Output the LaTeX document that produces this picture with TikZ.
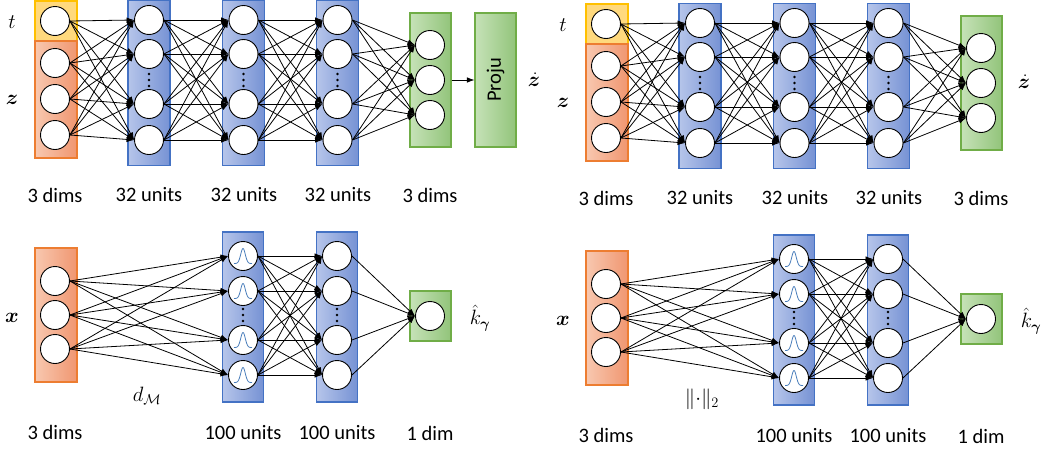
\documentclass[tikz,border=0pt]{standalone}
\usepackage[no-math]{fontspec}
\setmainfont{Carlito}
\usepackage{amsmath,bm}
\usetikzlibrary{arrows.meta}

\definecolor{blueL}{RGB}{182,197,234}
\definecolor{blueR}{RGB}{118,146,212}
\definecolor{blueBd}{RGB}{68,114,196}
\definecolor{orangeL}{RGB}{248,200,176}
\definecolor{orangeR}{RGB}{240,150,112}
\definecolor{orangeBd}{RGB}{237,125,49}
\definecolor{greenL}{RGB}{198,226,184}
\definecolor{greenR}{RGB}{146,196,122}
\definecolor{greenBd}{RGB}{112,173,71}
\definecolor{yellowF}{RGB}{255,217,125}
\definecolor{yellowBd}{RGB}{255,192,0}
\definecolor{gaussC}{RGB}{74,126,187}

\tikzset{
  neuron/.style={circle, draw=black, fill=white, minimum size=29pt, inner sep=0pt, line width=0.9pt},
  conn/.style={-{Latex[length=7.5pt,width=5.5pt]}, line width=0.8pt},
  layerbox/.style={rectangle, inner sep=0pt, line width=1.1pt},
  bluebox/.style={layerbox, draw=blueBd, left color=blueL, right color=blueR},
  orangebox/.style={layerbox, draw=orangeBd, left color=orangeL, right color=orangeR},
  greenbox/.style={layerbox, draw=greenBd, left color=greenL, right color=greenR},
  yellowbox/.style={layerbox, draw=yellowBd, fill=yellowF},
  lbl/.style={font=\fontsize{20.5}{24}\selectfont, inner sep=0pt},
  mlbl/.style={font=\fontsize{21}{25}\selectfont, inner sep=0pt},
  gauss/.style={draw=gaussC, line width=0.8pt},
  vdot/.style={circle, fill=black, inner sep=0pt, minimum size=2.6pt},
}

% network for t, z  ->  dz/dt
\newcommand{\odenet}[1]{%
  \node[yellowbox, minimum width=42pt, minimum height=40pt] (#1Y) at (56,21) {};
  \node[orangebox, minimum width=42pt, minimum height=117pt] (#1O) at (56,99.5) {};
  \foreach \i/\yy in {1/21,2/63,3/99,4/135} \node[neuron] (#1in\i) at (55,\yy) {};
  \foreach \L/\xx in {A/149,B/243.5,C/337.5} {
    \node[bluebox, minimum width=42pt, minimum height=164.5pt] (#1box\L) at (\xx,82.8) {};
    \foreach \i/\yy in {1/20,2/54,3/104,4/140} \node[neuron] (#1\L\i) at (\xx,\yy) {};
    \foreach \yy [count=\k] in {74,80,86} \node[vdot] (#1\L d\k) at (\xx,\yy) {};
  }
  \node[greenbox, minimum width=41pt, minimum height=134pt] (#1G) at (430.5,80) {};
  \foreach \i/\yy in {1/45,2/80,3/115} \node[neuron] (#1out\i) at (430,\yy) {};
  \foreach \a in {1,...,4} \foreach \b in {1,...,4} \draw[conn] (#1in\a.east) -- (#1A\b.west);
  \foreach \a in {1,...,4} \foreach \b in {1,...,4} \draw[conn] (#1A\a.east) -- (#1B\b.west);
  \foreach \a in {1,...,4} \foreach \b in {1,...,4} \draw[conn] (#1B\a.east) -- (#1C\b.west);
  \foreach \a in {1,...,4} \foreach \b in {1,...,3} \draw[conn] (#1C\a.east) -- (#1out\b.west);
  \node[mlbl] (#1t) at (12,22) {$t$};
  \node[mlbl] (#1z) at (12,100) {$\bm{z}$};
  \node[lbl] (#1l1) at (55,195) {3 dims};
  \node[lbl] (#1l2) at (149,195) {32 units};
  \node[lbl] (#1l3) at (244,195) {32 units};
  \node[lbl] (#1l4) at (338,195) {32 units};
  \node[lbl] (#1l5) at (430,195) {3 dims};
}

% network for x  ->  k_gamma with a radial-basis layer
\newcommand{\kernelnet}[1]{%
  \node[orangebox, minimum width=42pt, minimum height=134pt] (#1O) at (56,315) {};
  \foreach \i/\yy in {1/281,2/315,3/349} \node[neuron] (#1in\i) at (55,\yy) {};
  \foreach \L/\xx in {R/243,H/337} {
    \node[bluebox, minimum width=41pt, minimum height=170pt] (#1box\L) at (\xx,317) {};
    \foreach \i/\yy in {1/256,2/291,3/340,4/375} \node[neuron] (#1\L\i) at (\xx,\yy) {};
    \foreach \yy [count=\k] in {309,315,321} \node[vdot] (#1\L d\k) at (\xx,\yy) {};
  }
  \foreach \i in {1,...,4}
    \draw[gauss, shift={(#1R\i.center)}] plot[variable=\t, domain=-9:9, samples=45, smooth]
      ({\t},{7.5-15*exp(-(\t*\t)/(2*2.3*2.3))});
  \node[greenbox, minimum width=41pt, minimum height=50pt] (#1G) at (430.5,316) {};
  \node[neuron] (#1out) at (430,316) {};
  \foreach \a in {1,...,3} \foreach \b in {1,...,4} \draw[conn] (#1in\a.east) -- (#1R\b.west);
  \foreach \a in {1,...,4} \foreach \b in {1,...,4} \draw[conn] (#1R\a.east) -- (#1H\b.west);
  \foreach \a in {1,...,4} \draw[conn] (#1H\a.east) -- (#1out.west);
  \node[mlbl] (#1x) at (12,318) {$\bm{x}$};
  \node[mlbl] (#1k) at (480,318) {$\hat{k}_{\bm{\gamma}}$};
  \node[lbl] (#1l1) at (55,432) {3 dims};
  \node[lbl] (#1l2) at (243,433) {100 units};
  \node[lbl] (#1l3) at (337,433) {100 units};
  \node[lbl] (#1l4) at (430,433) {1 dim};
}

\begin{document}
\begin{tikzpicture}[x=1pt, y=-1pt]
  \useasboundingbox (0,0) rectangle (1045,453);

  % left column
  \odenet{p}
  \node[greenbox, minimum width=41pt, minimum height=134pt] (pP) at (495.5,80) {};
  \node[lbl, rotate=90] (pPtext) at (pP.center) {Proju};
  \draw[conn] (pG.east) -- (pP.west);
  \node[mlbl] (pzdot) at (534,80) {$\dot{\bm{z}}$};
  \kernelnet{q}
  \node[mlbl] (qd) at (147,396) {$d_{\mathcal{M}}$};

  % right column
  \begin{scope}[shift={(551,3)}]
    \odenet{r}
    \node[mlbl] (rzdot) at (473,79) {$\dot{\bm{z}}$};
    \kernelnet{s}
    \node[lbl] (sn) at (151,396) {$\|{\cdot}\|_2$};
  \end{scope}
\end{tikzpicture}
\end{document}
